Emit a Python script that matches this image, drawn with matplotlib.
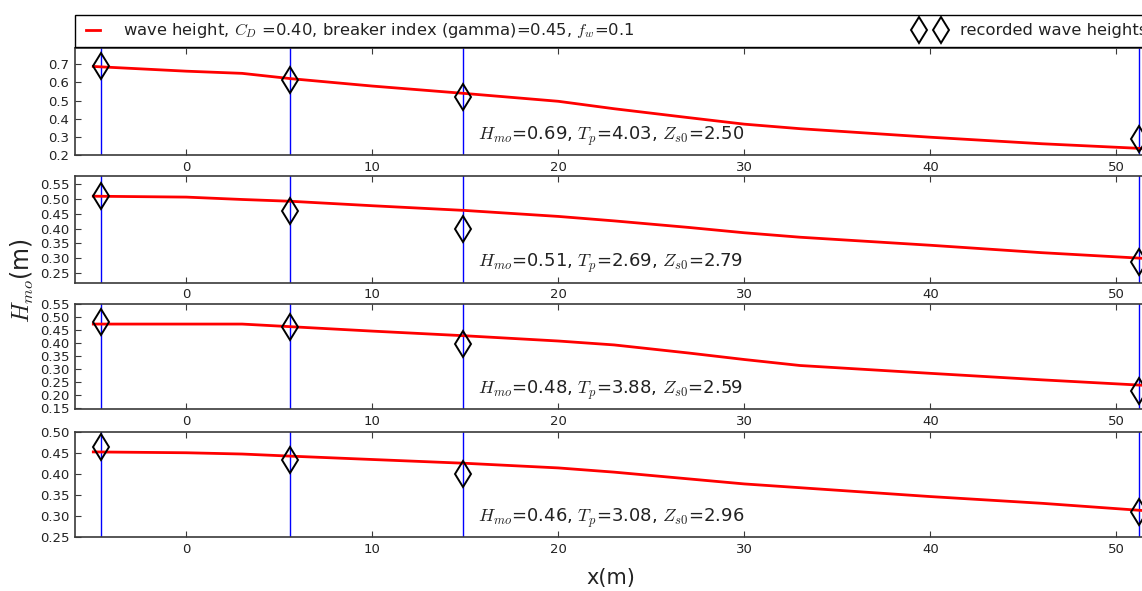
import matplotlib
matplotlib.use("Agg")
import matplotlib.pyplot as plt
from matplotlib.legend_handler import HandlerLine2D

plt.rcParams['mathtext.fontset'] = 'cm'
plt.rcParams['font.family'] = ['DejaVu Sans']

# ---- data ----
x_model = [-5, 0, 3, 5.6, 10, 15, 20, 23, 27, 30, 33, 40, 46, 52]
h_model_1 = [0.688, 0.662, 0.650, 0.621, 0.580, 0.539, 0.496, 0.455, 0.406, 0.370, 0.345, 0.298, 0.262, 0.233]
h_model_2 = [0.509, 0.506, 0.498, 0.492, 0.477, 0.461, 0.441, 0.426, 0.404, 0.386, 0.371, 0.344, 0.319, 0.298]
h_model_3 = [0.473, 0.473, 0.473, 0.463, 0.446, 0.428, 0.408, 0.393, 0.362, 0.337, 0.314, 0.284, 0.259, 0.236]
h_model_4 = [0.452, 0.450, 0.447, 0.442, 0.434, 0.425, 0.414, 0.404, 0.388, 0.376, 0.367, 0.346, 0.330, 0.311]

x_gauges = [-4.6, 5.6, 14.9, 51.2]
h_rec_1 = [0.690, 0.615, 0.520, 0.287]
h_rec_2 = [0.510, 0.458, 0.398, 0.287]
h_rec_3 = [0.481, 0.463, 0.395, 0.216]
h_rec_4 = [0.463, 0.433, 0.400, 0.310]

hmo = ["0.69", "0.51", "0.48", "0.46"]
tp = ["4.03", "2.69", "3.88", "3.08"]
zs0 = ["2.50", "2.79", "2.59", "2.96"]

ylims = [(0.2, 0.787), (0.218, 0.577), (0.146, 0.55), (0.25, 0.50)]
yticks = [[0.2, 0.3, 0.4, 0.5, 0.6, 0.7],
          [0.25, 0.30, 0.35, 0.40, 0.45, 0.50, 0.55],
          [0.15, 0.20, 0.25, 0.30, 0.35, 0.40, 0.45, 0.50, 0.55],
          [0.25, 0.30, 0.35, 0.40, 0.45, 0.50]]
yfmt = ["%.1f", "%.2f", "%.2f", "%.2f"]
xticks = [0, 10, 20, 30, 40, 50]
xlim = (-6, 52)

models = [h_model_1, h_model_2, h_model_3, h_model_4]
records = [h_rec_1, h_rec_2, h_rec_3, h_rec_4]

W, H = 1142, 591
fig = plt.figure(figsize=(W / 100, H / 100), dpi=100)

left_px, right_px = 74.7, 1153.5
panels_px = [(48.5, 155), (176, 282.7), (304, 409.3), (431.7, 537)]
spine_col = '#3a3a3a'

for i, (top, bot) in enumerate(panels_px):
    ax = fig.add_axes([left_px / W, 1 - bot / H, (right_px - left_px) / W, (bot - top) / H])
    for gx in x_gauges:
        ax.axvline(gx, color='blue', lw=1.0, zorder=1)
    l1, = ax.plot(x_model, models[i], color='red', lw=2.0, zorder=2,
                  label=r'wave height, $C_D$ =0.40, breaker index (gamma)=0.45, $f_w$=0.1')
    l2, = ax.plot(x_gauges, records[i], linestyle='none', marker='d', markersize=13,
                  mfc='none', mec='black', mew=1.4, zorder=3,
                  label='recorded wave heights')
    ax.set_xlim(*xlim)
    ax.set_ylim(*ylims[i])
    ax.set_xticks(xticks)
    ax.set_yticks(yticks[i])
    ax.set_yticklabels([yfmt[i] % v for v in yticks[i]])
    ax.tick_params(direction='in', top=True, right=True, length=4, width=0.8,
                   labelsize=9.5, colors=spine_col, labelcolor='#222222', pad=4)
    for s in ax.spines.values():
        s.set_color(spine_col)
        s.set_linewidth(1.2)
    ax.text(0.374, 0.145,
            r'$H_{mo}$=' + hmo[i] + r', $T_p$=' + tp[i] + r', $Z_{s0}$=' + zs0[i],
            transform=ax.transAxes, fontsize=13, va='baseline', ha='left', color='#222222')
    if i == 0:
        leg = ax.legend(handles=[l1, l2], bbox_to_anchor=(0., 1.015, 1., .102), loc='lower left',
                        ncol=2, mode='expand', borderaxespad=0., fontsize=11.8,
                        numpoints=2, handlelength=1.45, handletextpad=1.1,
                        handler_map={l2: HandlerLine2D(marker_pad=0.05, numpoints=2)},
                        fancybox=False, framealpha=1, edgecolor='black')
        leg.get_frame().set_linewidth(1.0)
        for t in leg.get_texts():
            t.set_color('#222222')

fig.text(0.02, 0.525, r'$H_{mo}$(m)', rotation=90, fontsize=17, ha='center', va='center', color='#222222')
fig.text(0.535, 0.022, 'x(m)', fontsize=15, ha='center', va='center', color='#222222')

fig.savefig('out.png', dpi=100)
